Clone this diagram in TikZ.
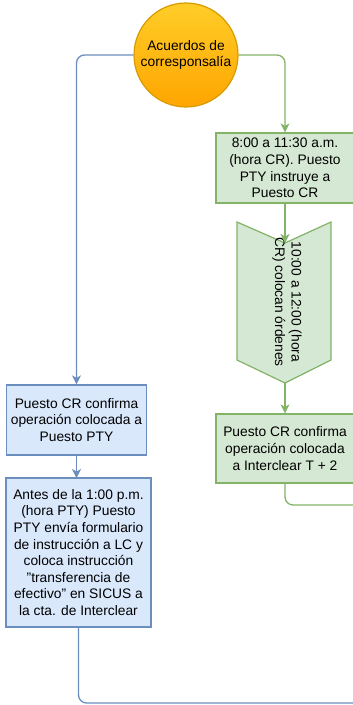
\documentclass[tikz,border=0pt]{standalone}
\usepackage{fontspec}
\setmainfont{Liberation Sans}
\usetikzlibrary{arrows.meta}
\definecolor{gfill}{HTML}{D5E8D4}
\definecolor{gline}{HTML}{82B366}
\definecolor{bfill}{HTML}{DAE8FC}
\definecolor{bline}{HTML}{6C8EBF}
\definecolor{otop}{HTML}{FFCD28}
\definecolor{obot}{HTML}{FFA500}
\definecolor{oline}{HTML}{D79B00}
\tikzset{
  txt/.style={font=\fontsize{13.8}{16.6}\selectfont, align=center, text=black},
  gbox/.style={txt, draw=gline, fill=gfill, line width=1.2pt, inner sep=0pt},
  bbox/.style={txt, draw=bline, fill=bfill, line width=1.2pt, inner sep=0pt},
  gconn/.style={draw=gline, line width=1.3pt, rounded corners=8pt},
  bconn/.style={draw=bline, line width=1.3pt, rounded corners=8pt},
  tip/.style={-{Stealth[length=9pt,width=9pt,inset=2.5pt]}},
}
\begin{document}
\begin{tikzpicture}[x=1pt,y=-1pt]
\useasboundingbox (0,0) rectangle (353,705);
% circle
\node[circle, minimum size=104pt, draw=oline, line width=1.2pt, top color=otop, bottom color=obot, txt, inner sep=0pt] (acu) at (186,55) {Acuerdos de\\corresponsalía};
% green boxes
\node[gbox, minimum width=138pt, minimum height=70pt] (g1) at (285,168) {8:00 a 11:30 a.m.\\(hora CR). Puesto\\PTY instruye a\\Puesto CR};
\node[gbox, minimum width=138pt, minimum height=69pt] (g2) at (285,448.5) {Puesto CR confirma\\operación colocada\\a Interclear T + 2};
% chevron
\coordinate (notch) at (285,243);
\coordinate (tipb) at (285,383);
\draw[draw=gline, fill=gfill, line width=1.2pt] (237,222) -- (notch) -- (331,222) -- (331,360) -- (tipb) -- (237,360) -- cycle;
\node[txt, rotate=-90] (chev) at (287,302) {10:00 a 12:00 (hora\\CR) colocan órdenes};
% blue boxes
\node[bbox, minimum width=140pt, minimum height=70pt] (b1) at (76.5,420) {Puesto CR confirma\\operación colocada a\\Puesto PTY};
\node[bbox, minimum width=145pt, minimum height=149pt] (b2) at (78.5,552.5) {Antes de la 1:00 p.m.\\(hora PTY) Puesto\\PTY envía formulario\\de instrucción a LC y\\coloca instrucción\\\symbol{34}transferencia de\\efectivo\symbol{34} en SICUS a\\la cta. de Interclear};
% connectors
\coordinate (gr1) at (353,505);
\coordinate (br1) at (353,703);
\draw[gconn, tip] (acu.east) -| (g1.north);
\draw[gconn, tip] (g1.south) -- (notch);
\draw[gconn, tip] (tipb) -- (g2.north);
\draw[gconn] (g2.south) |- (gr1);
\draw[bconn, tip] (acu.west) -| (b1.north);
\draw[bconn, tip] (b1.south) -- (76.5,478);
\draw[bconn] (b2.south) |- (br1);
\end{tikzpicture}
\end{document}
